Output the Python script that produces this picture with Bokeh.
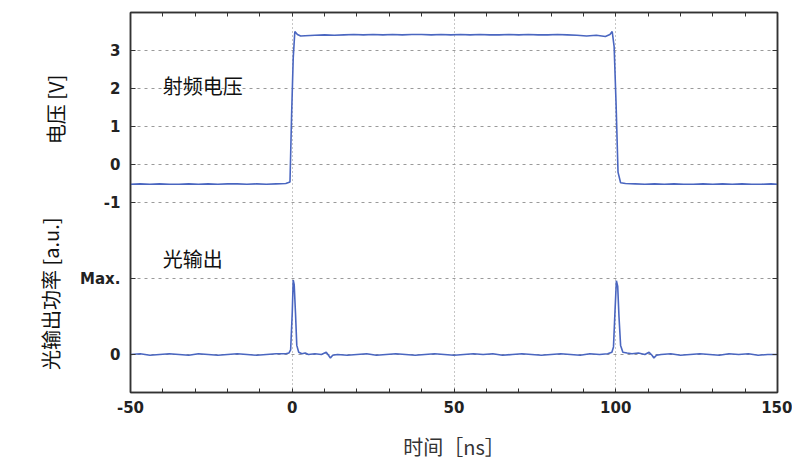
import math
from bokeh.plotting import figure
from bokeh.layouts import row
from bokeh.models import Range1d, LinearAxis, FixedTicker, Label
from bokeh.embed import file_html
from bokeh.resources import INLINE

# ---------------- data ----------------
x_ticks = [-50, 0, 50, 100, 150]
x_minor = [-40, -30, -20, -10, 10, 20, 30, 40, 60, 70, 80, 90, 110, 120, 130, 140]
volt_ticks = [3, 2, 1, 0, -1]
opt_ticks = [0, 1]
opt_tick_labels = {0: "0", 1: "Max."}

t_volt = [-50, -47, -44, -41, -38, -35, -32, -29, -26, -23, -20, -17, -14, -11, -8, -5, -2,
          -0.7, -0.2, 0.3, 0.8, 1.6, 2.6, 4, 7, 10, 13, 16, 19, 22, 25, 28, 31, 34, 37, 40,
          43, 46, 49, 52, 55, 58, 61, 64, 67, 70, 73, 76, 79, 82, 85, 88, 91, 94, 96.8,
          98.2, 98.9, 99.5, 100.1, 100.7, 101.5, 103, 106, 109, 112, 115, 118, 121, 124,
          127, 130, 133, 136, 139, 142, 145, 148, 150]
v_volt = [-0.52, -0.51, -0.52, -0.51, -0.52, -0.52, -0.51, -0.52, -0.51, -0.52, -0.51, -0.51,
          -0.52, -0.51, -0.52, -0.51, -0.50,
          -0.46, 1.3, 2.8, 3.50, 3.42, 3.38, 3.39, 3.40, 3.41, 3.40, 3.41, 3.42, 3.41, 3.42,
          3.41, 3.42, 3.41, 3.42, 3.42, 3.41, 3.42, 3.41, 3.42, 3.41, 3.42, 3.41, 3.41, 3.42,
          3.41, 3.42, 3.41, 3.41, 3.42, 3.41, 3.40, 3.38, 3.40, 3.37,
          3.42, 3.50, 3.1, 1.6, -0.2, -0.48, -0.50, -0.51, -0.52, -0.51, -0.52, -0.51, -0.52,
          -0.52, -0.51, -0.52, -0.51, -0.52, -0.51, -0.52, -0.52, -0.51, -0.52]

t_opt = [-50, -47, -44, -41, -38, -35, -32, -29, -26, -23, -20, -17, -14, -11, -8, -5, -2,
         -1.0, -0.5, 0.0, 0.3, 0.6, 1.0, 1.4, 2.0, 3.0, 4.0, 5.0, 7.0, 9.0, 10.5, 11.2, 11.8,
         12.5, 14, 17, 20, 23, 26, 29, 32, 35, 38, 41, 44, 47, 50, 53, 56, 59, 62, 65, 68,
         71, 74, 77, 80, 83, 86, 89, 92, 95, 97.5, 98.8, 99.3, 99.8, 100.2, 100.6, 101.0,
         101.5, 102.2, 103.5, 105, 107, 109, 110.3, 111.2, 111.8, 112.6, 114, 117, 120, 123,
         126, 129, 132, 135, 138, 141, 144, 147, 150]
p_opt = [0.0, 0.01, -0.01, 0.0, 0.01, 0.0, -0.01, 0.01, 0.0, -0.01, 0.0, 0.01, 0.0, -0.01,
         0.0, 0.01, 0.01,
         0.02, 0.06, 0.55, 0.98, 0.92, 0.55, 0.12, 0.03, 0.01, 0.02, 0.0, 0.01, 0.0, 0.03,
         -0.01, -0.045, -0.01, 0.0, -0.01, 0.0, 0.01, -0.01, 0.0, 0.01, 0.0, -0.01, 0.0,
         0.01, 0.0, -0.01, 0.0, 0.01, 0.0, 0.01, -0.01, 0.0, 0.01, 0.0, -0.01, 0.0, 0.01,
         0.0, -0.01, 0.01, 0.0, 0.01, 0.03, 0.1, 0.6, 0.97, 0.9, 0.5, 0.12, 0.03, 0.02,
         0.01, 0.02, 0.0, 0.03, -0.01, -0.045, -0.01, 0.0, 0.01, -0.01, 0.0, 0.01, 0.0,
         -0.01, 0.01, 0.0, 0.01, -0.01, 0.0, 0.0]

volt_label = "电压 [V]"
opt_label = "光输出功率 [a.u.]"
x_label = "时间［ns］"

LINE = "#4a66c0"
CJK = "Noto Sans CJK SC"
NUM = "DejaVu Sans"
TOP, BOTTOM, H = 12, 72, 464

y_range = Range1d(-6, 4)

p = figure(width=722, height=H, output_backend="svg", toolbar_location=None,
           x_range=Range1d(-50, 150), y_range=y_range,
           min_border_left=60, min_border_right=15, min_border_top=TOP,
           min_border_bottom=BOTTOM, x_axis_location=None, y_axis_location=None)
# optical output range: 0 at -5, Max at -3 on the voltage scale
p.extra_y_ranges = {"opt": Range1d(-0.5, 4.5)}

p.outline_line_color = "#333333"
p.outline_line_width = 1.5
p.background_fill_color = "white"
p.border_fill_color = "white"


def style_axis(ax, ticks, labels=True):
    ax.axis_line_color = "#333333"
    ax.axis_line_width = 1.5
    ax.major_tick_in = 5
    ax.major_tick_out = 0
    ax.minor_tick_in = 4
    ax.minor_tick_out = 0
    ax.major_tick_line_color = "#333333"
    ax.minor_tick_line_color = "#333333"
    ax.major_label_text_font = NUM
    ax.major_label_text_font_style = "bold"
    ax.major_label_text_font_size = "15px"
    ax.major_label_text_color = "#222222"
    if not labels:
        ax.major_label_overrides = {t: "" for t in ticks}
        ax.major_label_text_font_size = "1px"
        ax.major_label_standoff = 0


# bottom
xb = LinearAxis(ticker=FixedTicker(ticks=x_ticks, minor_ticks=x_minor))
style_axis(xb, x_ticks)
xb.major_tick_in = 4
xb.major_label_standoff = 8
xb.major_label_overrides = {t: str(t) for t in x_ticks}
xb.axis_label = x_label
xb.axis_label_text_font = CJK
xb.axis_label_text_font_style = "normal"
xb.axis_label_text_font_size = "20px"
xb.axis_label_text_color = "#333333"
xb.axis_label_standoff = 16
p.add_layout(xb, "below")
# top
xt = LinearAxis(ticker=FixedTicker(ticks=x_ticks, minor_ticks=x_minor))
style_axis(xt, x_ticks, labels=False)
xt.major_tick_in = 4
p.add_layout(xt, "above")

# left: voltage ticks + optical ticks (optical 0 -> -5, Max -> -3)
all_y = volt_ticks + [-5 + 2 * v for v in opt_ticks]
overrides = {t: str(t) for t in volt_ticks}
overrides.update({-5 + 2 * v: opt_tick_labels[v] for v in opt_ticks})
yl = LinearAxis(ticker=FixedTicker(ticks=all_y, minor_ticks=[]))
style_axis(yl, all_y)
yl.major_label_overrides = overrides
yl.major_label_standoff = 10
p.add_layout(yl, "left")
yr = LinearAxis(ticker=FixedTicker(ticks=all_y, minor_ticks=[]))
style_axis(yr, all_y, labels=False)
p.add_layout(yr, "right")

# grids
p.xgrid.ticker = FixedTicker(ticks=x_ticks)
p.xgrid.grid_line_color = "#8c8c8c"
p.xgrid.grid_line_dash = "1 3"
p.xgrid.grid_line_width = 1
p.ygrid.ticker = FixedTicker(ticks=all_y)
p.ygrid.grid_line_color = "#9a9a9a"
p.ygrid.grid_line_dash = "3 4"
p.ygrid.grid_line_width = 1

# lines
p.line(t_volt, v_volt, line_color=LINE, line_width=1.6)
p.line(t_opt, p_opt, line_color=LINE, line_width=1.6, y_range_name="opt")

# annotations
p.add_layout(Label(x=-40, y=2.09, text="射频电压", text_font=CJK, text_font_size="20px",
                   text_color="#111111", text_baseline="middle", text_align="left"))
p.add_layout(Label(x=-40, y=-2.47, text="光输出", text_font=CJK, text_font_size="20px",
                   text_color="#111111", text_baseline="middle", text_align="left"))

# left strip with the rotated y-axis titles
q = figure(width=70, height=H, output_backend="svg", toolbar_location=None,
           x_range=Range1d(0, 70), y_range=y_range,
           min_border_left=0, min_border_right=0, min_border_top=TOP,
           min_border_bottom=BOTTOM, x_axis_location=None, y_axis_location=None)
q.outline_line_color = None
q.xgrid.visible = False
q.ygrid.visible = False
q.border_fill_color = "white"
q.add_layout(Label(x=55, y=1.45, text=volt_label, angle=math.pi / 2,
                   text_font=CJK, text_font_size="20px", text_color="#111111",
                   text_align="center", text_baseline="middle"))
q.add_layout(Label(x=50, y=-3.4, text=opt_label, angle=math.pi / 2,
                   text_font=CJK, text_font_size="20px", text_color="#111111",
                   text_align="center", text_baseline="middle"))

layout = row(q, p)
open("out.html", "w").write(file_html(layout, INLINE))
